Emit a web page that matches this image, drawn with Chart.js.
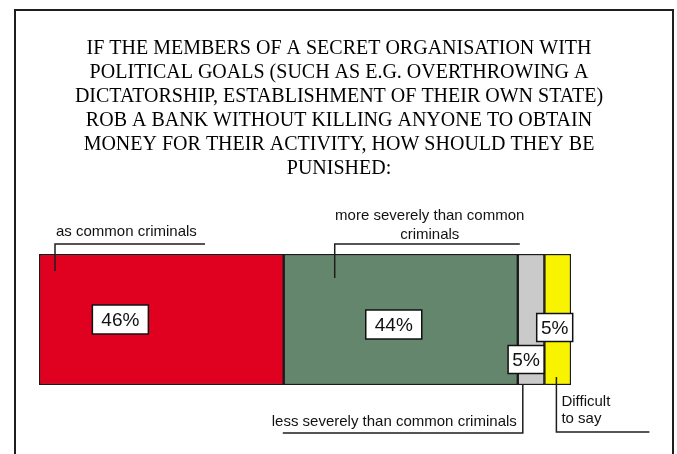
<!DOCTYPE html>
<html>
<head>
<meta charset="utf-8">
<script src="https://cdn.jsdelivr.net/npm/chart.js@4.4.1/dist/chart.umd.min.js"></script>
<style>
  html, body { margin: 0; padding: 0; background: #ffffff; }
  #wrap { width: 677px; height: 454px; position: relative; }
</style>
</head>
<body>
<div id="wrap"><canvas id="c" width="677" height="454"></canvas></div>
<script>
// ---- data ----
const titleLines = [
  'IF THE MEMBERS OF A SECRET ORGANISATION WITH',
  'POLITICAL GOALS (SUCH AS E.G. OVERTHROWING A',
  'DICTATORSHIP, ESTABLISHMENT OF THEIR OWN STATE)',
  'ROB A BANK WITHOUT KILLING ANYONE TO OBTAIN',
  'MONEY FOR THEIR ACTIVITY, HOW SHOULD THEY BE',
  'PUNISHED:'
];
const categories = ['Punishment'];
const seriesNames = [
  'as common criminals',
  'more severely than common criminals',
  'less severely than common criminals',
  'Difficult to say'
];
const seriesValues = [46, 44, 5, 5];
const seriesColors = ['#e00020', '#64866c', '#cacaca', '#f8f400'];

// ---- styles for labels / callouts (positions relative to each bar) ----
const labelStyles = [
  { dx: -41, dy: 0, w: 56, h: 29 },
  { dx: -7, dy: 5, w: 56, h: 29 },
  { dx: -5, dy: 40, w: 36, h: 28 },
  { dx: -3, dy: 8, w: 36, h: 28 }
];
const calloutStyles = [
  { lines: ['as common criminals'], align: 'left', anchor: 'left', tx: 17, ty: [-22],
    path: [['left', 16, 'top', 17], ['left', 16, 'top', -10], ['left', 166, 'top', -10]] },
  { lines: ['more severely than common', 'criminals'], align: 'center', anchor: 'left', tx: 146, ty: [-38, -19],
    path: [['left', 51, 'top', 24], ['left', 51, 'top', -10], ['right', 2, 'top', -10]] },
  { lines: ['less severely than common criminals'], align: 'right', anchor: 'left', tx: -1, ty: [37],
    path: [['left', 5, 'bottom', 0], ['left', 5, 'bottom', 48], ['left', -235, 'bottom', 48]] },
  { lines: ['Difficult', 'to say'], align: 'left', anchor: 'left', tx: 17, ty: [17, 34],
    path: [['left', 12, 'bottom', -8], ['left', 12, 'bottom', 47], ['left', 105, 'bottom', 47]] }
];

const decorPlugin = {
  id: 'decor',
  afterDraw(chart) {
    const ctx = chart.ctx;
    ctx.save();
    // frame
    ctx.strokeStyle = '#1e1e1e';
    ctx.lineWidth = 2;
    ctx.beginPath();
    ctx.moveTo(15, 454); ctx.lineTo(15, 10); ctx.lineTo(673, 10); ctx.lineTo(673, 454);
    ctx.stroke();
    // title
    ctx.fillStyle = '#000';
    ctx.font = '20px "Liberation Serif", "Times New Roman", serif';
    ctx.textAlign = 'center';
    ctx.textBaseline = 'middle';
    titleLines.forEach((t, i) => ctx.fillText(t, 339, 49 + i * 24));

    // callouts and value labels
    chart.data.datasets.forEach((ds, di) => {
      const el = chart.getDatasetMeta(di).data[0];
      if (!el) return;
      const p = el.getProps(['x', 'y', 'base', 'height'], true);
      const box = {
        left: Math.min(p.x, p.base), right: Math.max(p.x, p.base),
        top: p.y - p.height / 2, bottom: p.y + p.height / 2
      };
      const cs = calloutStyles[di];
      ctx.strokeStyle = '#1e1e1e';
      ctx.lineWidth = 1.5;
      ctx.beginPath();
      cs.path.forEach((pt, k) => {
        const X = box[pt[0]] + pt[1];
        const Y = box[pt[2]] + pt[3];
        if (k === 0) ctx.moveTo(X, Y); else ctx.lineTo(X, Y);
      });
      ctx.stroke();
      ctx.fillStyle = '#111';
      ctx.font = '15px "Liberation Sans", Arial, sans-serif';
      ctx.textAlign = cs.align;
      ctx.textBaseline = 'middle';
      const baseY = cs.ty[0] < 0 ? box.top : box.bottom;
      cs.lines.forEach((ln, k) => {
        ctx.fillText(ln, box[cs.anchor] + cs.tx, baseY + cs.ty[k]);
      });

      // value label box
      const ls = labelStyles[di];
      const cx = (box.left + box.right) / 2 + ls.dx;
      const cy = p.y + ls.dy;
      ctx.fillStyle = '#fff';
      ctx.fillRect(cx - ls.w / 2, cy - ls.h / 2, ls.w, ls.h);
      ctx.strokeStyle = '#111';
      ctx.lineWidth = 1.5;
      ctx.strokeRect(cx - ls.w / 2, cy - ls.h / 2, ls.w, ls.h);
      ctx.fillStyle = '#111';
      ctx.font = '19px "Liberation Sans", Arial, sans-serif';
      ctx.textAlign = 'center';
      ctx.fillText(ds.data[0] + '%', cx, cy + 1);
    });
    ctx.restore();
  }
};

new Chart(document.getElementById('c'), {
  type: 'bar',
  data: {
    labels: categories,
    datasets: seriesNames.map((n, i) => ({
      label: n,
      data: [seriesValues[i]],
      backgroundColor: seriesColors[i],
      borderColor: '#1a1a1a',
      borderWidth: 1.5,
      borderSkipped: false,
      barPercentage: 1,
      categoryPercentage: 1
    }))
  },
  options: {
    indexAxis: 'y',
    responsive: false,
    animation: false,
    layout: { padding: { left: 39, right: 106, top: 254, bottom: 69 } },
    scales: {
      x: { stacked: true, min: 0, max: 100, display: false },
      y: { stacked: true, display: false }
    },
    plugins: {
      legend: { display: false },
      tooltip: { enabled: false },
      title: { display: false }
    }
  },
  plugins: [decorPlugin]
});
</script>
</body>
</html>
